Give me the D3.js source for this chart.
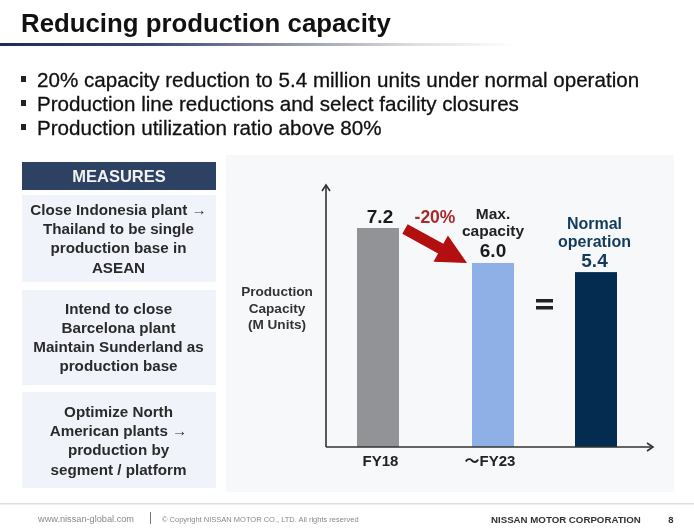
<!DOCTYPE html>
<html>
<head>
<meta charset="utf-8">
<script src="https://cdn.jsdelivr.net/npm/d3@7"></script>
<style>
html, body { margin: 0; padding: 0; background: #fff; }
svg { display: block; filter: blur(0.45px); }
text { font-family: "Liberation Sans", Arial, "Noto Sans CJK JP", sans-serif; }
</style>
</head>
<body>
<svg id="slide" width="694" height="529"></svg>
<script>
// chart data
var categories = ["FY18", "\uff5eFY23", ""];
var valueLabels = ["7.2", "6.0", "5.4"];
// bar heights as drawn on the slide, the last bar is not to scale with its 5.4 label
var barHeights = [7.2, 6.05, 5.75];
var barColors = ["#929396", "#8fb0e6", "#042c50"];

var bullets = [
    "20% capacity reduction to 5.4 million units under normal operation",
    "Production line reductions and select facility closures",
    "Production utilization ratio above 80%"
];
var measures = [
    ["Close Indonesia plant \u2192", "Thailand to be single", "production base in", "ASEAN"],
    ["Intend to close", "Barcelona plant", "Maintain Sunderland as", "production base"],
    ["Optimize North", "American plants \u2192", "production by", "segment / platform"]
];
var axisTitle = ["Production", "Capacity", "(M Units)"];

var svg = d3.select("#slide");
var defs = svg.append("defs");

// header rule fades out to the right
var grad = defs.append("linearGradient").attr("id", "rule");
grad.append("stop").attr("offset", "0").attr("stop-color", "#1c2a5e");
grad.append("stop").attr("offset", "0.3").attr("stop-color", "#3d4a78");
grad.append("stop").attr("offset", "0.55").attr("stop-color", "#8f95ab");
grad.append("stop").attr("offset", "0.8").attr("stop-color", "#ddd");
grad.append("stop").attr("offset", "1").attr("stop-color", "#fff");

function label(x, y, str, size, opts) {
    opts = opts || {};
    return svg.append("text")
        .attr("x", x).attr("y", y)
        .attr("text-anchor", opts.anchor || "middle")
        .attr("font-size", size)
        .attr("font-weight", opts.weight || "bold")
        .attr("fill", opts.fill || "#1b1b1b")
        .text(str);
}

// header
label(21, 32, "Reducing production capacity", 25.8, {anchor: "start", fill: "#111"});
svg.append("rect").attr("x", 0).attr("y", 43).attr("width", 515).attr("height", 3).attr("fill", "url(#rule)");

// bullets
bullets.forEach(function(item, i) {
    var y = 87 + i * 24;
    svg.append("rect").attr("x", 21).attr("y", y - 11).attr("width", 5).attr("height", 6).attr("fill", "#222");
    label(37, y, item, 20.6, {anchor: "start", weight: "normal", fill: "#111"}).attr("stroke", "#111").attr("stroke-width", 0.3);
});

// left column
svg.append("rect").attr("x", 22).attr("y", 162).attr("width", 194).attr("height", 28).attr("fill", "#2d4263");
label(119, 182, "MEASURES", 16.5, {fill: "#f2f2f2"});

var boxTops = [195, 290, 392];
var boxBottoms = [282, 385, 488];
measures.forEach(function(lines, i) {
    svg.append("rect").attr("x", 22).attr("y", boxTops[i]).attr("width", 194)
        .attr("height", boxBottoms[i] - boxTops[i]).attr("fill", "#f0f4fa");
    var first = [215, 313.5, 417][i];
    lines.forEach(function(line, j) {
        label(118.5, first + j * 19.2, line, 15.2, {fill: "#2a2a2a"});
    });
});

// chart panel
svg.append("rect").attr("x", 226).attr("y", 155).attr("width", 448).attr("height", 337).attr("fill", "#f7f8fa");

// scales
var y = d3.scaleLinear().domain([0, 7.2]).range([447, 228]);
var x = d3.scaleOrdinal().domain(d3.range(3)).range([378, 493, 596]);
var barWidth = 42;

svg.selectAll(".bar")
    .data(barHeights)
    .enter()
    .append("rect")
    .attr("class", "bar")
    .attr("x", function(d, i) { return x(i) - barWidth / 2; })
    .attr("y", function(d) { return y(d); })
    .attr("width", barWidth)
    .attr("height", function(d) { return y(0) - y(d); })
    .attr("fill", function(d, i) { return barColors[i]; });

// axes with arrow heads
var axisColor = "#333";
var x0 = 326, xEnd = 653, yTop = 185;
svg.append("path").attr("d", d3.line()([[x0, y(0)], [x0, yTop]])).attr("stroke", axisColor).attr("stroke-width", 1.6).attr("fill", "none");
svg.append("path").attr("d", d3.line()([[x0, y(0)], [xEnd, y(0)]])).attr("stroke", axisColor).attr("stroke-width", 1.6).attr("fill", "none");
svg.append("path").attr("d", d3.line()([[x0 - 4, yTop + 6], [x0, yTop], [x0 + 4, yTop + 6]])).attr("stroke", axisColor).attr("stroke-width", 1.6).attr("fill", "none");
svg.append("path").attr("d", d3.line()([[xEnd - 6, y(0) - 4], [xEnd, y(0)], [xEnd - 6, y(0) + 4]])).attr("stroke", axisColor).attr("stroke-width", 1.6).attr("fill", "none");

// category labels
label(x(0) + 2.5, 466, categories[0], 15, {fill: "#222"});
label(x(1) - 3, 466, categories[1], 15, {fill: "#222"});

// value labels
label(x(0) + 2, 223, valueLabels[0], 19);
label(x(1), 257, valueLabels[1], 19);
label(x(2) - 1.5, 267, valueLabels[2], 19, {fill: "#123a5c"});

// notes above the bars
label(x(1), 219, "Max.", 15.5, {fill: "#222"});
label(x(1), 236, "capacity", 15.5, {fill: "#222"});
label(x(2) - 1.5, 229, "Normal", 16, {fill: "#123a5c"});
label(x(2) - 1.5, 247, "operation", 16, {fill: "#123a5c"});
label(435, 223, "-20%", 17.5, {fill: "#a92a2a"});

// red arrow going from the first bar to the second
var arrowFrom = [x(0) + 27, y(7.2) + 1], arrowTo = [x(1) - 26, y(barHeights[1])];
var ang = Math.atan2(arrowTo[1] - arrowFrom[1], arrowTo[0] - arrowFrom[0]);
var len = Math.hypot(arrowTo[0] - arrowFrom[0], arrowTo[1] - arrowFrom[1]);
var shaft = 5.5, head = 15, headLen = 30;
var arrowPts = [[0, -shaft], [len - headLen, -shaft], [len - headLen, -head], [len, 0], [len - headLen, head], [len - headLen, shaft], [0, shaft]];
svg.append("polygon")
    .attr("points", arrowPts.map(function(p) {
        return [arrowFrom[0] + p[0] * Math.cos(ang) - p[1] * Math.sin(ang),
                arrowFrom[1] + p[0] * Math.sin(ang) + p[1] * Math.cos(ang)].join(",");
    }).join(" "))
    .attr("fill", "#b30f10");

// equals sign
svg.append("rect").attr("x", 536).attr("y", 299).attr("width", 17).attr("height", 3.5).attr("fill", "#222");
svg.append("rect").attr("x", 536).attr("y", 306).attr("width", 17).attr("height", 3.5).attr("fill", "#222");

// axis title
axisTitle.forEach(function(line, i) {
    label(277, 296 + i * 16.5, line, 13.6, {fill: "#333"});
});

// footer
svg.append("rect").attr("x", 0).attr("y", 503).attr("width", 694).attr("height", 1.5).attr("fill", "#dedede");
label(38, 522, "www.nissan-global.com", 9.2, {anchor: "start", weight: "normal", fill: "#888"});
svg.append("rect").attr("x", 150).attr("y", 512).attr("width", 1).attr("height", 12).attr("fill", "#777");
label(162, 522, "\u00a9 Copyright NISSAN MOTOR CO., LTD. All rights reserved", 7.5, {anchor: "start", weight: "normal", fill: "#888"});
label(491, 523, "NISSAN MOTOR CORPORATION", 9.7, {anchor: "start", fill: "#333"});
label(671, 523, "8", 9.5, {fill: "#333"});
</script>
</body>
</html>
